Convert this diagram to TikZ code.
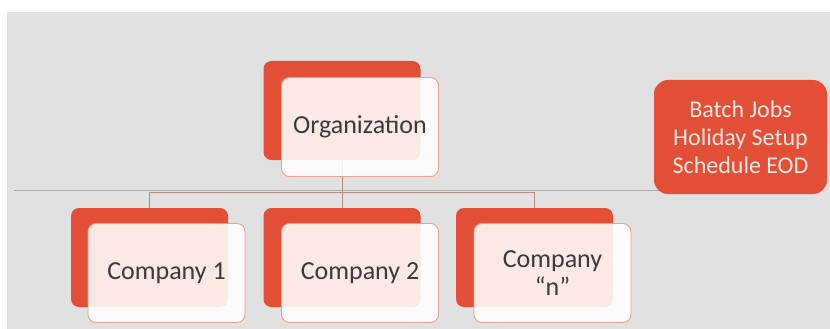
\documentclass[tikz,border=0pt]{standalone}
\usepackage{fontspec}
\setmainfont{Carlito}
\usetikzlibrary{calc}
\definecolor{slide}{HTML}{E0E1E0}
\definecolor{brick}{HTML}{E24E36}
\definecolor{blush}{HTML}{E8A293}
\definecolor{ink}{HTML}{3A3A3A}
\definecolor{wire}{HTML}{B38A84}
\definecolor{rulegray}{HTML}{A7A8A7}
\definecolor{paletext}{HTML}{FCEAE3}

\begin{document}
\begin{tikzpicture}[
  x=1pt, y=-1pt,
  back/.style={fill=brick, rounded corners=8pt, minimum width=157pt, minimum height=99pt, inner sep=0pt},
  front/.style={draw=blush, line width=0.9pt, fill=white, fill opacity=0.88, text opacity=1,
                rounded corners=8pt, minimum width=157pt, minimum height=99pt, inner sep=0pt,
                align=center, text=ink, font=\fontsize{26}{28}\selectfont},
  side/.style={fill=brick, rounded corners=14pt, minimum width=173pt, minimum height=114pt, inner sep=0pt,
               align=center, text=paletext, font=\fontsize{24}{28}\selectfont},
  link/.style={draw=wire, line width=1pt},
  divider/.style={draw=rulegray, line width=1pt},
]
\useasboundingbox (0,0) rectangle (830,329);
\fill[slide] (7,12) rectangle (830,329);

% ---------- divider ----------
\coordinate (divL) at (14,190.5);
\coordinate (divR) at (700,190.5);
\draw[divider] (divL) -- (divR);
\node[side] (jobs) at (740.5,137) {Batch Jobs\\Holiday Setup\\Schedule EOD};

% ---------- tree ----------
\coordinate (orgpos) at (342,110.5);
\coordinate (hub) at (342,192.5);
\coordinate (c1pos) at (149.5,257.5);
\coordinate (c2pos) at (342,257.5);
\coordinate (cnpos) at (534.5,257.5);
\draw[link] (orgpos) -- (hub);
\draw[link] (hub) -| (c1pos);
\draw[link] (hub) -| (cnpos);
\draw[link] (hub) -- (c2pos);

% ---------- boxes ----------
\node[back] (orgb) at (orgpos) {};
\node[back] (c1b)  at (c1pos)  {};
\node[back] (c2b)  at (c2pos)  {};
\node[back] (cnb)  at (cnpos)  {};
\draw[link] (orgb.south) -- (hub);
\node[front] (org) at ($(orgb)+(18,16.5)$) {Organization};
\node[front] (c1)  at ($(c1b)+(17,15.5)$)  {Company 1};
\node[front] (c2)  at ($(c2b)+(18,15.5)$)  {Company 2};
\node[front] (cn)  at ($(cnb)+(18,15.5)$)  {Company\\“n”};
\end{tikzpicture}
\end{document}
